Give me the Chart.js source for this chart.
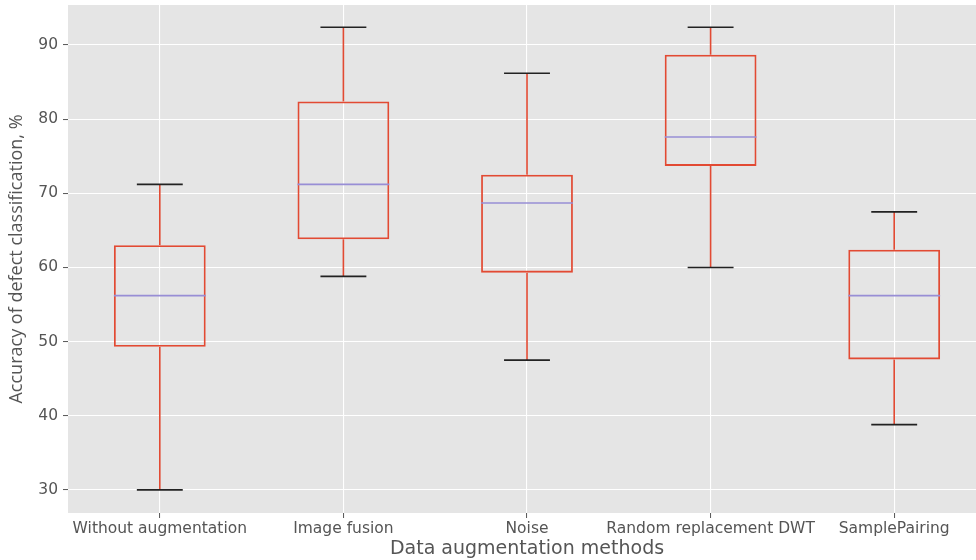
<!DOCTYPE html>
<html>
<head>
<meta charset="utf-8">
<script src="https://cdn.jsdelivr.net/npm/chart.js@4.4.1/dist/chart.umd.min.js"></script>
<style>
  html, body { margin: 0; padding: 0; background: #ffffff; overflow: hidden; }
  #wrap { width: 976px; height: 560px; overflow: hidden; }
  canvas { display: block; }
</style>
</head>
<body>
<div id="wrap"><canvas id="c" width="986" height="560"></canvas></div>
<script>
// ---- data ----
const categories = ['Without augmentation', 'Image fusion', 'Noise', 'Random replacement DWT', 'SamplePairing'];
const whiskerLow  = [30.0, 58.8, 47.5, 60.0, 38.8];
const q1          = [49.3, 63.8, 59.3, 73.7, 47.6];
const median      = [56.2, 71.2, 68.7, 77.6, 56.2];
const q3          = [63.0, 82.4, 72.5, 88.7, 62.4];
const whiskerHigh = [71.2, 92.4, 86.2, 92.4, 67.5];
const yTicks      = [30, 40, 50, 60, 70, 80, 90];

// ---- styles ----
const RED = '#E24A33', PURPLE = '#988ED5', CAPC = '#222222', TXT = '#555555';
const BOX_W = 0.5;           // box width in category units
const CAP_W = BOX_W / 2;     // cap width in category units

const pos = categories.map((_, i) => i + 1);

const boxData = pos.map((x, i) => ({ x: x, y: [q1[i], q3[i]] }));
const whiskerData = [];
const capData = [];
const medianData = [];
pos.forEach((x, i) => {
  whiskerData.push({ x: x, y: q3[i] }, { x: x, y: whiskerHigh[i] }, { x: x, y: null });
  whiskerData.push({ x: x, y: q1[i] }, { x: x, y: whiskerLow[i] }, { x: x, y: null });
  capData.push({ x: x - CAP_W / 2, y: whiskerHigh[i] }, { x: x + CAP_W / 2, y: whiskerHigh[i] }, { x: x, y: null });
  capData.push({ x: x - CAP_W / 2, y: whiskerLow[i] }, { x: x + CAP_W / 2, y: whiskerLow[i] }, { x: x, y: null });
  medianData.push({ x: x - BOX_W / 2, y: median[i] }, { x: x + BOX_W / 2, y: median[i] }, { x: x, y: null });
});

const bgPlugin = {
  id: 'bg',
  beforeDraw(chart) {
    const { ctx, chartArea: a } = chart;
    ctx.save();
    ctx.fillStyle = '#E5E5E5';
    ctx.fillRect(a.left, a.top, a.right - a.left, a.bottom - a.top);
    ctx.restore();
  }
};

const lineDs = (data, color, order) => ({
  type: 'line', data, borderColor: color, borderWidth: 1.6, pointRadius: 0,
  fill: false, spanGaps: false, tension: 0, order
});

new Chart(document.getElementById('c'), {
  type: 'bar',
  data: {
    datasets: [
      lineDs(medianData, PURPLE, 0),
      lineDs(capData, CAPC, 1),
      lineDs(whiskerData, RED, 2),
      {
        type: 'bar', data: boxData, borderColor: RED, backgroundColor: 'rgba(0,0,0,0)',
        borderWidth: 1.8, borderSkipped: false, categoryPercentage: 1, barPercentage: BOX_W, order: 3
      }
    ]
  },
  options: {
    responsive: false,
    animation: false,
    events: [],
    layout: { padding: { top: 5, right: 0, left: 0, bottom: 0 } },
    plugins: { legend: { display: false }, tooltip: { enabled: false } },
    scales: {
      x: {
        type: 'linear', min: 0.5, max: categories.length + 0.5, offset: false,
        afterFit: (a) => { a.height = 47; },
        afterBuildTicks: (a) => { a.ticks = pos.map(v => ({ value: v })); },
        border: { display: false },
        grid: { offset: false, color: '#ffffff', lineWidth: 1.1, tickColor: TXT, tickWidth: 1, tickLength: 5 },
        ticks: {
          autoSkip: false, maxRotation: 0, padding: 2, color: TXT,
          font: { family: 'DejaVu Sans', size: 15.5 },
          callback: (v) => categories[Math.round(v) - 1]
        },
        title: {
          display: true, text: 'Data augmentation methods', color: TXT,
          font: { family: 'DejaVu Sans', size: 19 }, padding: { top: 0, bottom: 0 }
        }
      },
      y: {
        type: 'linear', min: 26.88, max: 95.4,
        afterFit: (a) => { a.width = 68; a.paddingTop = 0; a.paddingBottom = 0; },
        afterBuildTicks: (a) => { a.ticks = yTicks.map(v => ({ value: v })); },
        border: { display: false },
        grid: { color: '#ffffff', lineWidth: 1.1, tickColor: TXT, tickWidth: 1, tickLength: 5 },
        ticks: { padding: 5, color: TXT, font: { family: 'DejaVu Sans', size: 15.5 } },
        title: {
          display: true, text: 'Accuracy of defect classification, %', color: TXT,
          font: { family: 'Open Sans', size: 18 }, padding: { top: 6, bottom: 0 }
        }
      }
    }
  },
  plugins: [bgPlugin]
});
</script>
</body>
</html>
